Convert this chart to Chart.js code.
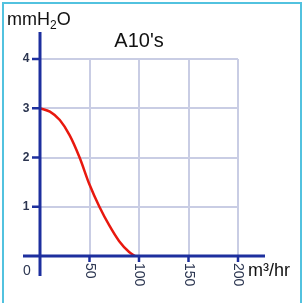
<!DOCTYPE html>
<html><head><meta charset="utf-8">
<script src="https://cdn.jsdelivr.net/npm/chart.js@4/dist/chart.umd.min.js"></script>
<style>html,body{margin:0;padding:0;background:#fff;}#wrap{position:relative;width:304px;height:303px;}</style>
</head><body><div id="wrap"><canvas id="c" width="304" height="303"></canvas></div>
<script>
const flowValues = [0, 10, 20, 30, 40, 50, 60, 70, 80, 90, 96];
const pressureValues = [3.0, 2.93, 2.76, 2.45, 2.0, 1.45, 1.0, 0.62, 0.3, 0.08, 0];
const xTicks = [50, 100, 150, 200];
const yTicks = [1, 2, 3, 4];
const titleText = "A10's";
const xUnit = "m³/hr";

const AXIS = '#1d2f9e', LABEL = '#2b3550', GRID = '#c9cde4';

const deco = {
  id: 'deco',
  afterDraw(chart) {
    const ctx = chart.ctx, xs = chart.scales.x, ys = chart.scales.y;
    const x0 = xs.getPixelForValue(0), y0 = ys.getPixelForValue(0);
    ctx.save();
    // frame
    ctx.strokeStyle = '#52c2df'; ctx.lineWidth = 2;
    ctx.beginPath(); ctx.moveTo(3, 303); ctx.lineTo(3, 3); ctx.lineTo(301, 3); ctx.lineTo(301, 303); ctx.stroke();
    // axes
    ctx.strokeStyle = AXIS; ctx.lineWidth = 3;
    ctx.beginPath(); ctx.moveTo(x0, 32); ctx.lineTo(x0, 276); ctx.stroke();
    ctx.beginPath(); ctx.moveTo(23, y0); ctx.lineTo(265, y0); ctx.stroke();
    // ticks
    ctx.lineWidth = 2.5;
    yTicks.forEach(v => { const p = ys.getPixelForValue(v); ctx.beginPath(); ctx.moveTo(x0 - 8, p); ctx.lineTo(x0, p); ctx.stroke(); });
    xTicks.forEach(v => { const p = xs.getPixelForValue(v); ctx.beginPath(); ctx.moveTo(p, y0); ctx.lineTo(p, y0 + 6); ctx.stroke(); });
    // labels
    ctx.fillStyle = LABEL; ctx.font = 'bold 12px "Liberation Sans", Arial, sans-serif';
    ctx.textAlign = 'center'; ctx.textBaseline = 'middle';
    yTicks.forEach(v => ctx.fillText(String(v), 26, ys.getPixelForValue(v)));
    ctx.font = '14px "Liberation Sans", Arial, sans-serif';
    ctx.fillText('0', 27, 271);
    xTicks.forEach(v => {
      ctx.save(); ctx.translate(xs.getPixelForValue(v), 263); ctx.rotate(Math.PI / 2);
      ctx.textAlign = 'left'; ctx.fillText(String(v), 0, 0); ctx.restore();
    });
    // texts
    ctx.fillStyle = '#111'; ctx.textBaseline = 'alphabetic';
    ctx.font = '20px "Liberation Sans", Arial, sans-serif'; ctx.textAlign = 'center';
    ctx.fillText(titleText, (xs.left + xs.right) / 2, 47);
    ctx.textAlign = 'left'; ctx.font = '18px "Liberation Sans", Arial, sans-serif';
    let x = 7; const by = 25;
    ctx.fillText('mmH', x, by); x += ctx.measureText('mmH').width;
    ctx.font = '12px "Liberation Sans", Arial, sans-serif'; ctx.fillText('2', x, by + 4); x += ctx.measureText('2').width;
    ctx.font = '18px "Liberation Sans", Arial, sans-serif'; ctx.fillText('O', x, by);
    ctx.fillText(xUnit, 248, 276);
    ctx.restore();
  }
};

new Chart(document.getElementById('c'), {
  type: 'scatter',
  data: { datasets: [{
    data: flowValues.map((f, i) => ({ x: f, y: pressureValues[i] })),
    showLine: true, borderColor: '#e8180e', borderWidth: 2.5, pointRadius: 0, tension: 0.4, cubicInterpolationMode: 'monotone', fill: false
  }]},
  options: {
    responsive: false, animation: false, devicePixelRatio: 1,
    layout: { padding: { left: 40, right: 66, top: 59, bottom: 47 } },
    plugins: { legend: { display: false }, tooltip: { enabled: false } },
    scales: {
      x: { type: 'linear', min: 0, max: 200, afterFit: s => { s.height = 0; },
           ticks: { display: false, stepSize: 50 }, border: { display: false },
           grid: { color: GRID, lineWidth: 2, drawTicks: false } },
      y: { type: 'linear', min: 0, max: 4, afterFit: s => { s.width = 0; },
           ticks: { display: false, stepSize: 1 }, border: { display: false },
           grid: { color: GRID, lineWidth: 2, drawTicks: false } }
    }
  },
  plugins: [deco]
});
</script></body></html>
